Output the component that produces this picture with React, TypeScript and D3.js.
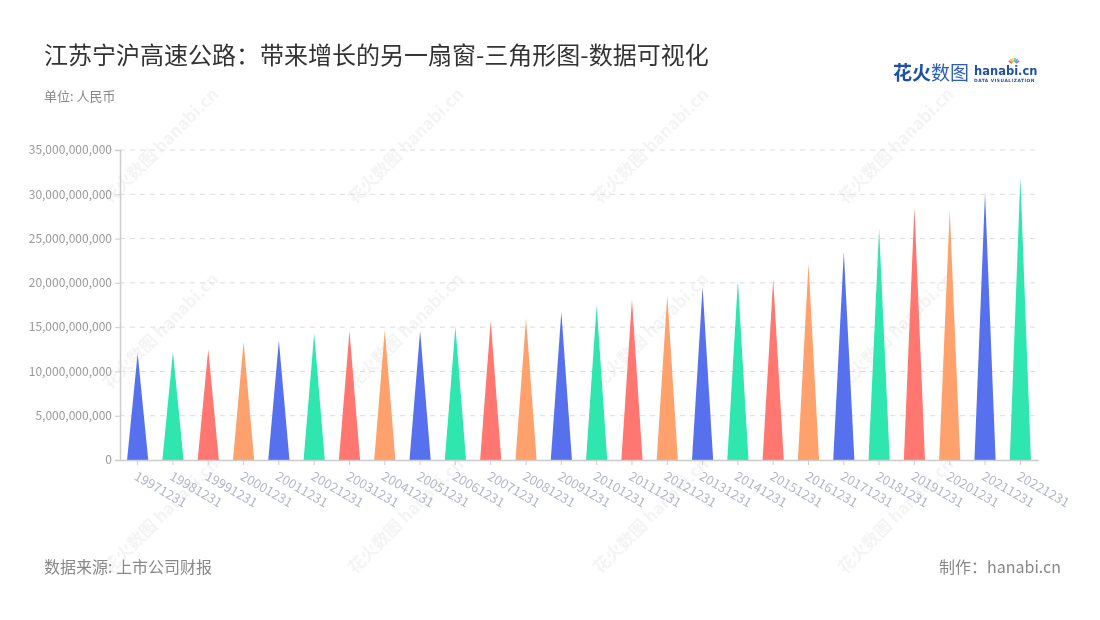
import React, { useEffect, useRef } from "react";
import * as d3 from "d3";

const years = [
  "19971231", "19981231", "19991231", "20001231", "20011231", "20021231",
  "20031231", "20041231", "20051231", "20061231", "20071231", "20081231",
  "20091231", "20101231", "20111231", "20121231", "20131231", "20141231",
  "20151231", "20161231", "20171231", "20181231", "20191231", "20201231",
  "20211231", "20221231",
];
// 单位: 十亿元 (x1e9)
const revenue = [
  12.05, 12.23, 12.49, 13.36, 13.47, 14.3, 14.56, 14.68, 14.6, 15.05, 15.73,
  16.0, 16.75, 17.5, 18.14, 18.63, 19.57, 20.25, 20.4, 22.2, 23.52, 26.15,
  28.53, 28.2, 30.2, 31.88,
].map((v) => v * 1e9);
const palette = ["#5771ee", "#2ee6ae", "#ff7770", "#ffa16d"];
const yTicks = [0, 5e9, 10e9, 15e9, 20e9, 25e9, 30e9, 35e9];

const FONT = "'Noto Sans CJK SC', 'Noto Sans', sans-serif";

export default function App() {
  const ref = useRef<SVGSVGElement>(null);

  useEffect(() => {
    if (!ref.current) return;
    const svg = d3.select(ref.current);
    svg.selectAll("*").remove();

    const W = 1100, H = 620;
    const margin = { top: 150, right: 62, bottom: 160, left: 120 };
    const iw = W - margin.left - margin.right;
    const ih = H - margin.top - margin.bottom;

    svg.append("rect").attr("width", W).attr("height", H).attr("fill", "#fff");

    // watermarks
    const wm = svg.append("g").attr("opacity", 0.06).attr("fill", "#444");
    const wmPos: [number, number][] = [];
    [165, 410, 655, 900].forEach((x) =>
      [150, 335, 520].forEach((y) => wmPos.push([x, y]))
    );
    wmPos.forEach(([x, y]) => {
      const g = wm.append("g").attr("transform", `translate(${x},${y}) rotate(-45)`);
      g.append("text")
        .attr("font-family", FONT)
        .attr("font-size", 17)
        .attr("font-weight", 700)
        .attr("text-anchor", "middle")
        .text("花火数图 hanabi.cn");
    });

    // title
    svg.append("text")
      .attr("x", 44).attr("y", 64)
      .attr("font-family", FONT).attr("font-size", 24).attr("fill", "#333")
      .text("江苏宁沪高速公路：带来增长的另一扇窗-三角形图-数据可视化");
    svg.append("text")
      .attr("x", 44).attr("y", 101)
      .attr("font-family", FONT).attr("font-size", 13).attr("fill", "#888")
      .text("单位: 人民币");

    // logo
    const logo = svg.append("g").attr("transform", "translate(893,80)");
    logo.append("text")
      .attr("font-family", FONT).attr("font-size", 19).attr("font-weight", 700)
      .attr("fill", "#1f4fa8").text("花火")
      .attr("x", 0);
    logo.append("text")
      .attr("font-family", FONT).attr("font-size", 19).attr("font-weight", 400)
      .attr("fill", "#2a5cc0").attr("x", 38).text("数图");
    logo.append("text")
      .attr("font-family", "'DejaVu Sans', sans-serif").attr("font-size", 11.5).attr("font-weight", 700)
      .attr("fill", "#1f4fa8").attr("x", 81).attr("y", -5).text("hanabi.cn");
    logo.append("text")
      .attr("font-family", "'DejaVu Sans', sans-serif").attr("font-size", 4.4).attr("font-weight", 700)
      .attr("fill", "#1f4fa8").attr("x", 81).attr("y", 2).attr("letter-spacing", 0.5)
      .text("DATA VISUALIZATION");
    const rays = ["#ff5b5b", "#ffb13d", "#ffd93d", "#3ddc84", "#3db3ff", "#a86bff"];
    rays.forEach((c, i) => {
      const a = (-150 + i * 24) * (Math.PI / 180);
      logo.append("line")
        .attr("x1", 121 + Math.cos(a) * 2).attr("y1", -16 + Math.sin(a) * 2)
        .attr("x2", 121 + Math.cos(a) * 6).attr("y2", -16 + Math.sin(a) * 6)
        .attr("stroke", c).attr("stroke-width", 1.6);
    });

    const g = svg.append("g").attr("transform", `translate(${margin.left},${margin.top})`);

    const x = d3.scaleBand<string>().domain(years).range([0, iw]).paddingInner(0.4).paddingOuter(0.2);
    const y = d3.scaleLinear().domain([0, 35e9]).range([ih, 0]);

    // grid
    g.append("g")
      .selectAll("line")
      .data(yTicks.filter((d) => d > 0))
      .join("line")
      .attr("x1", 0).attr("x2", iw)
      .attr("y1", (d) => y(d)).attr("y2", (d) => y(d))
      .attr("stroke", "#dcdcdc").attr("stroke-dasharray", "5,5");

    // triangles
    g.append("g")
      .selectAll("path")
      .data(revenue)
      .join("path")
      .attr("d", (v, i) => {
        const x0 = x(years[i])!;
        const w = x.bandwidth();
        return `M${x0},${y(0)}L${x0 + w / 2},${y(v)}L${x0 + w},${y(0)}Z`;
      })
      .attr("fill", (_, i) => palette[i % palette.length]);

    // y axis
    const yAxis = g.append("g")
      .call(
        d3.axisLeft(y).tickValues(yTicks).tickSize(5).tickPadding(3)
          .tickFormat((d) => d3.format(",")(d as number))
      );
    yAxis.select(".domain").attr("stroke", "#ccc").attr("stroke-width", 1.5);
    yAxis.selectAll(".tick line").attr("stroke", "#ccc");
    yAxis.selectAll("text")
      .attr("font-family", FONT).attr("font-size", 12).attr("fill", "#999");

    // x axis
    const xAxis = g.append("g")
      .attr("transform", `translate(0,${ih})`)
      .call(d3.axisBottom(x).tickSize(5).tickSizeOuter(0));
    xAxis.select(".domain").attr("stroke", "#ccc").attr("stroke-width", 1.5);
    xAxis.selectAll(".tick line").attr("stroke", "#ccc");
    xAxis.selectAll("text")
      .attr("font-family", FONT).attr("font-size", 13).attr("fill", "#b3b6c6")
      .attr("text-anchor", "start")
      .attr("dy", "0.35em")
      .attr("transform", "translate(2,8) rotate(30)");

    // footer
    svg.append("text")
      .attr("x", 44).attr("y", 573)
      .attr("font-family", FONT).attr("font-size", 16).attr("fill", "#888")
      .text("数据来源: 上市公司财报");
    svg.append("text")
      .attr("x", 1061).attr("y", 573).attr("text-anchor", "end")
      .attr("font-family", FONT).attr("font-size", 16).attr("fill", "#888")
      .text("制作：hanabi.cn");
  }, []);

  return (
    <svg
      ref={ref}
      width={1100}
      height={620}
      style={{ position: "absolute", left: 0, top: 0 }}
    />
  );
}
